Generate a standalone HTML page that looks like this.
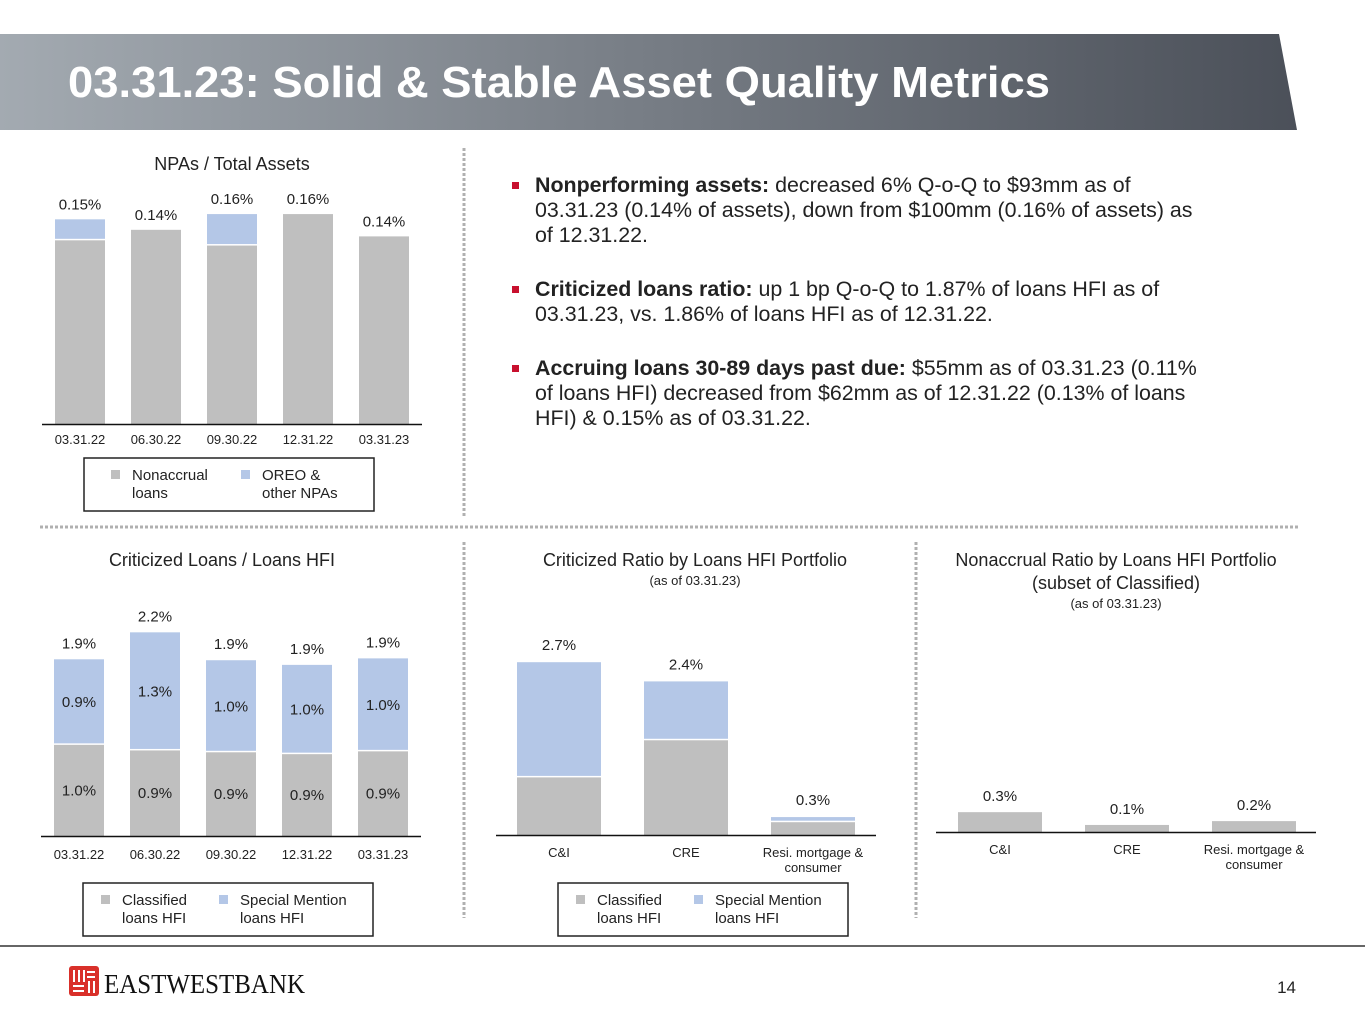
<!DOCTYPE html>
<html><head><meta charset="utf-8">
<style>
html,body{margin:0;padding:0;background:#fff;}
body{width:1365px;height:1024px;overflow:hidden;position:relative;font-family:"Liberation Sans",Arial,sans-serif;}
svg{position:absolute;left:0;top:0;}
.bul{position:absolute;left:535px;white-space:nowrap;font-size:21.4px;line-height:25px;color:#222;}
.bul b{font-weight:bold;}
.bul:before{content:"";position:absolute;left:-23px;top:9px;width:7px;height:7px;background:#c8102e;}
</style></head>
<body>
<svg id="s" width="1365" height="1024" xmlns="http://www.w3.org/2000/svg" font-family="Liberation Sans, Arial, sans-serif">
<defs><linearGradient id="hg" x1="0" x2="1" y1="0" y2="0"><stop offset="0" stop-color="#a3aab1"/><stop offset="1" stop-color="#4b5059"/></linearGradient></defs>
<polygon points="0,34 1279,34 1297,130 0,130" fill="url(#hg)"/>
<text x="68" y="97" font-size="44" font-weight="bold" fill="#fff" textLength="982" lengthAdjust="spacingAndGlyphs">03.31.23: Solid &amp; Stable Asset Quality Metrics</text>
<g stroke="#b0b0b0" stroke-width="3" stroke-dasharray="3,2">
<line x1="40" y1="527" x2="1298" y2="527"/>
<line x1="464" y1="148" x2="464" y2="518"/>
<line x1="464" y1="542" x2="464" y2="918"/>
<line x1="916" y1="542" x2="916" y2="918"/>
</g>
<line x1="0" y1="946" x2="1365" y2="946" stroke="#666" stroke-width="2"/>
<g>
<rect x="69" y="966" width="30" height="30" rx="3" fill="#d9302a"/>
<g stroke="#fff" stroke-width="2"><line x1="74" y1="970" x2="74" y2="982"/><line x1="79" y1="970" x2="79" y2="982"/><line x1="84" y1="970" x2="84" y2="982"/><line x1="87" y1="972" x2="95" y2="972"/><line x1="87" y1="977" x2="95" y2="977"/><line x1="73" y1="986" x2="84" y2="986"/><line x1="73" y1="991" x2="84" y2="991"/><line x1="89" y1="981" x2="89" y2="993"/><line x1="94" y1="981" x2="94" y2="993"/></g>
<text x="104" y="993" font-family="Liberation Serif, serif" font-size="27" fill="#111" textLength="201" lengthAdjust="spacingAndGlyphs">EASTWESTBANK</text>
</g>
<text x="1296" y="993" font-size="17" text-anchor="end" fill="#222">14</text>
</svg>

<div class="bul" style="top:173px"><b>Nonperforming assets:</b> decreased 6% Q-o-Q to $93mm as of<br>03.31.23 (0.14% of assets), down from $100mm (0.16% of assets) as<br>of 12.31.22.</div>
<div class="bul" style="top:277px"><b>Criticized loans ratio:</b> up 1 bp Q-o-Q to 1.87% of loans HFI as of<br>03.31.23, vs. 1.86% of loans HFI as of 12.31.22.</div>
<div class="bul" style="top:356px"><b>Accruing loans 30-89 days past due:</b> $55mm as of 03.31.23 (0.11%<br>of loans HFI) decreased from $62mm as of 12.31.22 (0.13% of loans<br>HFI) &amp; 0.15% as of 03.31.22.</div>

<script>
// Chart 1: NPAs / Total Assets
const npaDates = ["03.31.22","06.30.22","09.30.22","12.31.22","03.31.23"];
const npaNonaccrual = [0.140,0.148,0.136,0.160,0.143];
const npaOreo = [0.016,0.000,0.024,0.000,0.000];
const npaLabels = ["0.15%","0.14%","0.16%","0.16%","0.14%"];
// Chart 2: Criticized Loans / Loans HFI
const critDates = ["03.31.22","06.30.22","09.30.22","12.31.22","03.31.23"];
const critClassified = [0.98,0.92,0.90,0.88,0.91];
const critSpecial = [0.92,1.27,0.99,0.96,1.00];
const critClassLabels = ["1.0%","0.9%","0.9%","0.9%","0.9%"];
const critSpecLabels = ["0.9%","1.3%","1.0%","1.0%","1.0%"];
const critTotalLabels = ["1.9%","2.2%","1.9%","1.9%","1.9%"];
// Chart 3: Criticized Ratio by Portfolio
const portCats = ["C&I","CRE","Resi. mortgage &|consumer"];
const portClassified = [0.90,1.48,0.20];
const portSpecial = [1.80,0.92,0.08];
const portLabels = ["2.7%","2.4%","0.3%"];
// Chart 4: Nonaccrual Ratio by Portfolio
const nonCats = ["C&I","CRE","Resi. mortgage &|consumer"];
const nonVals = [0.31,0.11,0.17];
const nonLabels = ["0.3%","0.1%","0.2%"];

const svg=document.getElementById('s');
const NS="http://www.w3.org/2000/svg";
const GRAY="#bfbfbf", BLUE="#b4c7e7";
function el(tag,attrs,parent){const e=document.createElementNS(NS,tag);for(const k in attrs)e.setAttribute(k,attrs[k]);(parent||svg).appendChild(e);return e;}
function txt(x,y,s,size,anchor,parent,fill){const t=el('text',{x:x,y:y,'font-size':size,'text-anchor':anchor||'middle',fill:fill||'#222'},parent);t.textContent=s;return t;}
function multi(x,y,s,size,parent,lh){s.split('|').forEach((l,i)=>txt(x,y+i*(lh||15),l,size,'middle',parent));}

function legend(x,y,w,h,items,parent){
  const g=el('g',{},parent);
  
  
  el('rect',{x:x,y:y,width:w,height:h,fill:'#fff',stroke:'#222','stroke-width':1.5},g);
  items.forEach(it=>{
    const r=el('rect',{x:x+it.dx,y:y+12,width:9,height:9,fill:it.c},g);
    
    
    txt(x+it.dx+21,y+22,it.l1,15,'start',g);
    txt(x+it.dx+21,y+40,it.l2,15,'start',g);
  });
}

// chart 1
(function(){
  const g=el('g',{});
  
  
  const base=424, sc=1312, x0=55, step=76, bw=50;
  const yv=v=>base-v*sc;
  txt(232,170,"NPAs / Total Assets",18,'middle',g);
  npaDates.forEach((d,i)=>{
    const x=x0+i*step;
    const b=el('rect',{x:x,y:yv(npaNonaccrual[i]),width:bw,height:npaNonaccrual[i]*sc,fill:GRAY},g);
    
    
    const tot=npaNonaccrual[i]+npaOreo[i];
    if(npaOreo[i]>0){
      const o=el('rect',{x:x,y:yv(tot),width:bw,height:npaOreo[i]*sc-1.5,fill:BLUE},g);
      
      
    }
    txt(x+bw/2,yv(tot)-10,npaLabels[i],15,'middle',g);
    txt(x+bw/2,444,d,13,'middle',g);
  });
  el('line',{x1:42,y1:base+0.5,x2:422,y2:base+0.5,stroke:'#111','stroke-width':1.5},g);
  legend(84,458,290,53,[{dx:27,c:GRAY,l1:"Nonaccrual",l2:"loans"},{dx:157,c:BLUE,l1:"OREO &",l2:"other NPAs"}],g);
})();

// chart 2
(function(){
  const g=el('g',{});
  
  
  const base=836, sc=93, x0=54, step=76, bw=50;
  const yv=v=>base-v*sc;
  txt(222,566,"Criticized Loans / Loans HFI",18,'middle',g);
  critDates.forEach((d,i)=>{
    const x=x0+i*step, c=critClassified[i], s=critSpecial[i];
    const b=el('rect',{x:x,y:yv(c),width:bw,height:c*sc,fill:GRAY},g);
    
    
    const b2=el('rect',{x:x,y:yv(c+s),width:bw,height:s*sc-1.5,fill:BLUE},g);
    
    
    txt(x+bw/2,yv(c/2)+5,critClassLabels[i],15,'middle',g);
    txt(x+bw/2,yv(c+s/2)+5,critSpecLabels[i],15,'middle',g);
    txt(x+bw/2,yv(c+s)-11,critTotalLabels[i],15,'middle',g);
    txt(x+bw/2,859,d,13,'middle',g);
  });
  el('line',{x1:41,y1:base+0.5,x2:421,y2:base+0.5,stroke:'#111','stroke-width':1.5},g);
  legend(83,883,290,53,[{dx:18,c:GRAY,l1:"Classified",l2:"loans HFI"},{dx:136,c:BLUE,l1:"Special Mention",l2:"loans HFI"}],g);
})();

// chart 3
(function(){
  const g=el('g',{});
  
  
  const base=835, sc=64, x0=517, step=127, bw=84;
  const yv=v=>base-v*sc;
  txt(695,566,"Criticized Ratio by Loans HFI Portfolio",18,'middle',g);
  txt(695,585,"(as of 03.31.23)",13,'middle',g);
  portCats.forEach((c,i)=>{
    const x=x0+i*step, a=portClassified[i], s=portSpecial[i];
    const b=el('rect',{x:x,y:yv(a),width:bw,height:a*sc,fill:GRAY},g);
    
    
    const b2=el('rect',{x:x,y:yv(a+s),width:bw,height:Math.max(s*sc-1.5,1),fill:BLUE},g);
    
    
    txt(x+bw/2,yv(a+s)-12,portLabels[i],15,'middle',g);
    multi(x+bw/2,857,c,13,g);
  });
  el('line',{x1:496,y1:base+0.5,x2:876,y2:base+0.5,stroke:'#111','stroke-width':1.5},g);
  legend(558,883,290,53,[{dx:18,c:GRAY,l1:"Classified",l2:"loans HFI"},{dx:136,c:BLUE,l1:"Special Mention",l2:"loans HFI"}],g);
})();

// chart 4
(function(){
  const g=el('g',{});
  
  
  const base=832, sc=64, x0=958, step=127, bw=84;
  const yv=v=>base-v*sc;
  txt(1116,566,"Nonaccrual Ratio by Loans HFI Portfolio",18,'middle',g);
  txt(1116,589,"(subset of Classified)",18,'middle',g);
  txt(1116,608,"(as of 03.31.23)",13,'middle',g);
  nonCats.forEach((c,i)=>{
    const x=x0+i*step;
    const b=el('rect',{x:x,y:yv(nonVals[i]),width:bw,height:nonVals[i]*sc,fill:GRAY},g);
    
    
    txt(x+bw/2,yv(nonVals[i])-11,nonLabels[i],15,'middle',g);
    multi(x+bw/2,854,c,13,g);
  });
  el('line',{x1:936,y1:base+0.5,x2:1316,y2:base+0.5,stroke:'#111','stroke-width':1.5},g);
})();
</script>
</body></html>
